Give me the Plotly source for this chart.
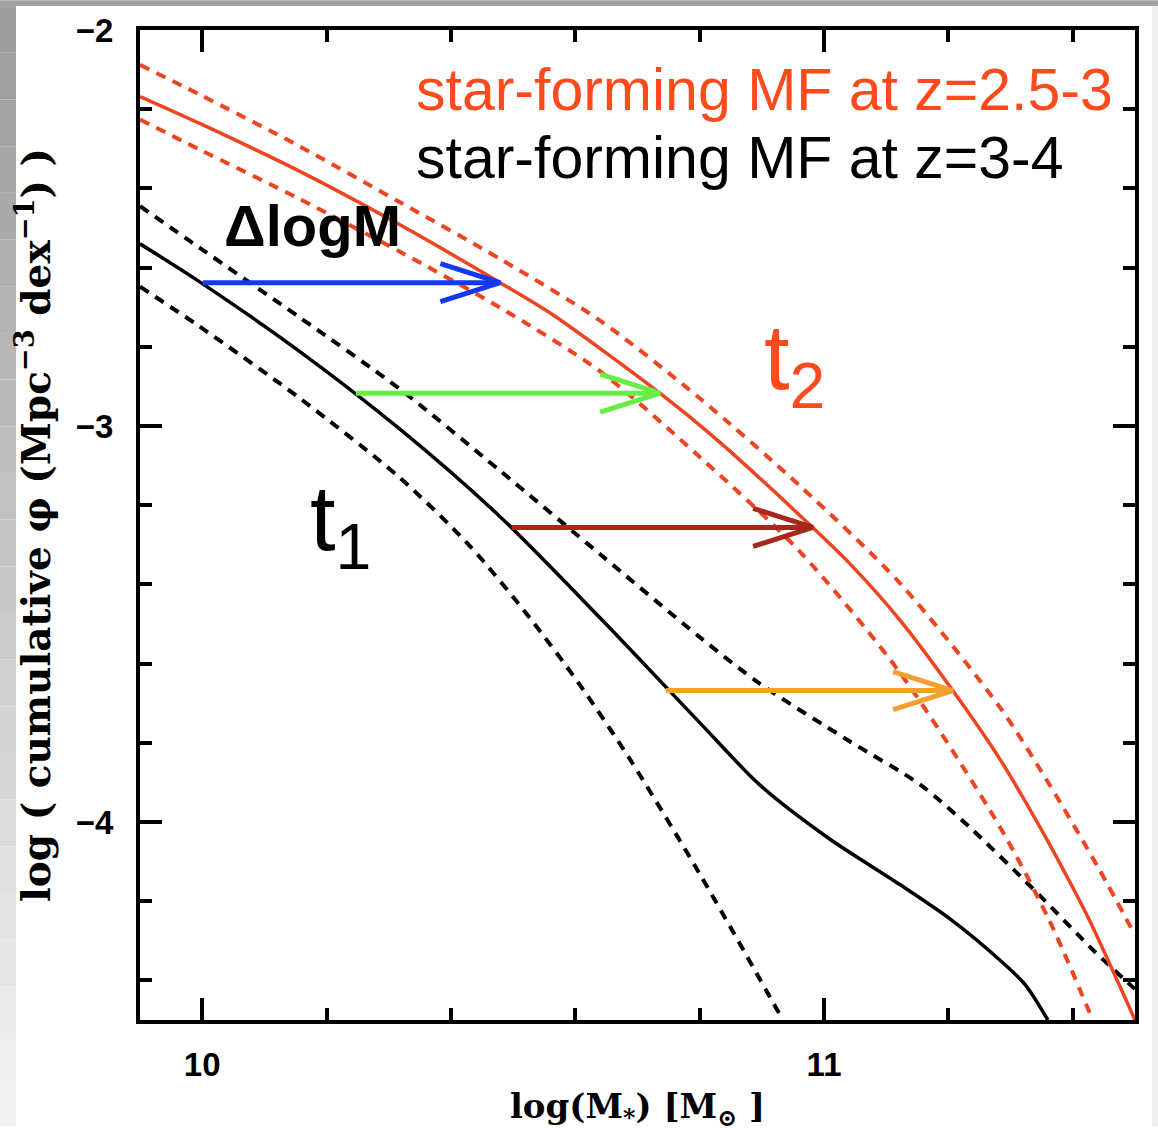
import plotly.graph_objects as go

# ---- cumulative stellar mass functions of star-forming galaxies ----
# z = 3-4 (black): best estimate and upper / lower bounds
mass_z34 = [9.900, 9.996, 10.157, 10.318, 10.479, 10.640, 10.800, 10.897,
            11.009, 11.122, 11.202, 11.283, 11.323, 11.360]
phi_z34 = [-2.540, -2.636, -2.812, -3.008, -3.229, -3.485, -3.749, -3.907,
           -4.043, -4.158, -4.244, -4.349, -4.410, -4.500]

mass_z34_hi = [9.900, 9.996, 10.157, 10.318, 10.479, 10.640, 10.800, 10.897,
               11.041, 11.154, 11.234, 11.347, 11.435, 11.500]
phi_z34_hi = [-2.445, -2.550, -2.726, -2.907, -3.113, -3.324, -3.533, -3.651,
              -3.796, -3.905, -4.013, -4.186, -4.327, -4.422]

mass_z34_lo = [9.900, 9.996, 10.157, 10.318, 10.431, 10.527, 10.607, 10.688, 10.800, 10.932]
phi_z34_lo = [-2.648, -2.749, -2.930, -3.131, -3.304, -3.485, -3.653, -3.842, -4.131, -4.495]

# z = 2.5-3 (red): best estimate and upper / lower bounds
mass_z253 = [9.900, 9.996, 10.157, 10.318, 10.479, 10.559, 10.736, 10.828, 10.980,
             11.041, 11.122, 11.207, 11.283, 11.358, 11.395, 11.427, 11.500]
phi_z253 = [-2.168, -2.236, -2.357, -2.492, -2.638, -2.714, -2.917, -3.035, -3.254,
            -3.347, -3.490, -3.668, -3.842, -4.043, -4.151, -4.249, -4.500]

mass_z253_hi = [9.900, 9.996, 10.157, 10.318, 10.479, 10.640, 10.800, 10.961,
                11.122, 11.283, 11.363, 11.443, 11.500]
phi_z253_hi = [-2.088, -2.163, -2.294, -2.435, -2.578, -2.734, -2.930, -3.151,
               -3.397, -3.711, -3.907, -4.121, -4.286]

mass_z253_lo = [9.900, 9.996, 10.157, 10.318, 10.479, 10.640, 10.800, 10.961,
                11.122, 11.283, 11.363, 11.432]
phi_z253_lo = [-2.226, -2.302, -2.427, -2.560, -2.701, -2.862, -3.078, -3.317,
               -3.623, -4.013, -4.251, -4.500]

# mass growth (Delta log M) at fixed cumulative number density
arrow_phi = [-2.638, -2.917, -3.256, -3.668]
arrow_mass_from = [10.001, 10.247, 10.498, 10.746]
arrow_mass_to = [10.479, 10.736, 10.982, 11.207]
arrow_colors = ["#1238F2", "#66EE44", "#A6281A", "#F4A030"]

# axis ticks
x_tick_vals = [10, 11]
x_tick_text = ["10", "11"]
y_tick_vals = [-2, -3, -4]
y_tick_text = ["\u22122", "\u22123", "\u22124"]

RED = "#EE4422"
RED_TEXT = "#FF4A1C"

W, H = 1158, 1132
ML, MR, MT, MB = 140, 23, 30, 107


def px(x):
    return (x - ML) / (W - ML - MR)


def py(y):
    return 1 - (y - MT) / (H - MT - MB)


fig = go.Figure()

curve_style = dict(mode="lines", line_shape="spline", hoverinfo="skip", showlegend=False)
dashed = "10px,8px"
fig.add_trace(go.Scatter(x=mass_z34_lo, y=phi_z34_lo,
                         line=dict(color="black", width=4, dash=dashed, smoothing=0.8), **curve_style))
fig.add_trace(go.Scatter(x=mass_z34_hi, y=phi_z34_hi,
                         line=dict(color="black", width=4, dash=dashed, smoothing=0.8), **curve_style))
fig.add_trace(go.Scatter(x=mass_z34, y=phi_z34,
                         line=dict(color="black", width=3.5, smoothing=0.8), **curve_style))
fig.add_trace(go.Scatter(x=mass_z253_lo, y=phi_z253_lo,
                         line=dict(color=RED, width=4, dash=dashed, smoothing=0.8), **curve_style))
fig.add_trace(go.Scatter(x=mass_z253_hi, y=phi_z253_hi,
                         line=dict(color=RED, width=4, dash=dashed, smoothing=0.8), **curve_style))
fig.add_trace(go.Scatter(x=mass_z253, y=phi_z253,
                         line=dict(color=RED, width=3.5, smoothing=0.8), **curve_style))

# arrows with open V heads
head_dx, head_dy = 0.096, 0.048
for x0, x1, yv, col in zip(arrow_mass_from, arrow_mass_to, arrow_phi, arrow_colors):
    fig.add_trace(go.Scatter(x=[x0, x1], y=[yv, yv], mode="lines",
                             line=dict(color=col, width=5), hoverinfo="skip", showlegend=False))
    fig.add_trace(go.Scatter(x=[x1 - head_dx, x1, x1 - head_dx],
                             y=[yv + head_dy, yv, yv - head_dy], mode="lines",
                             line=dict(color=col, width=5), hoverinfo="skip", showlegend=False))

# slide-style frame around the figure
shapes = [dict(type="rect", xref="paper", yref="paper", x0=px(0), x1=px(W), y0=py(6), y1=py(0),
               fillcolor="#a2a2a2", line_width=0, layer="below")]
n_bands = 24
for i in range(n_bands):
    g = int(0x9c + (0xf2 - 0x9c) * i / (n_bands - 1))
    shapes.append(dict(type="rect", xref="paper", yref="paper",
                       x0=px(0), x1=px(16), y0=py(6 + (H - 6) * (i + 1) / n_bands),
                       y1=py(6 + (H - 6) * i / n_bands),
                       fillcolor=f"rgb({g},{g},{g})", line_width=0, layer="below"))
shapes.append(dict(type="rect", xref="paper", yref="paper", x0=px(1152), x1=px(W),
                   y0=py(H), y1=py(6), fillcolor="#efefef", line_width=0, layer="below"))

annotations = [
    dict(text="star-forming MF at z=2.5-3", x=px(414), y=py(90), xanchor="left", yanchor="middle",
         font=dict(family="Liberation Sans", size=59, color=RED_TEXT)),
    dict(text="star-forming MF at z=3-4", x=px(414), y=py(159), xanchor="left", yanchor="middle",
         font=dict(family="Liberation Sans", size=59, color="black")),
    dict(text="<b>\u0394logM</b>", x=px(222), y=py(226), xanchor="left", yanchor="middle",
         font=dict(family="Liberation Sans", size=58, color="black")),
    dict(text="t<sub>2</sub>", x=px(762), y=py(366), xanchor="left", yanchor="middle",
         font=dict(family="Liberation Sans", size=92, color=RED_TEXT)),
    dict(text="t<sub>1</sub>", x=px(308), y=py(528), xanchor="left", yanchor="middle",
         font=dict(family="Liberation Sans", size=92, color="black")),
]
for a in annotations:
    a.update(xref="paper", yref="paper", showarrow=False)

axis_common = dict(showgrid=False, zeroline=False, showline=True, linewidth=4, linecolor="black",
                   mirror="allticks", ticks="inside", ticklen=22, tickwidth=4, tickcolor="black",
                   tickmode="array",
                   tickfont=dict(family="Liberation Sans", size=33, color="black", weight="bold"))

fig.update_layout(
    width=W, height=H, autosize=False,
    margin=dict(l=ML, r=MR, t=MT, b=MB, pad=0),
    paper_bgcolor="white", plot_bgcolor="white",
    shapes=shapes, annotations=annotations,
    xaxis=dict(range=[9.9, 11.5], tickvals=x_tick_vals, ticktext=x_tick_text,
               ticklabelstandoff=12,
               minor=dict(ticks="inside", ticklen=12, tickwidth=4, tickcolor="black",
                          tickmode="linear", tick0=10, dtick=0.2, showgrid=False),
               title=dict(text="log(M<sub>*</sub>) [M<sub>\u2299</sub> ]", standoff=14,
                          font=dict(family="DejaVu Serif", size=34, color="black", weight="bold")),
               **axis_common),
    yaxis=dict(range=[-4.5, -2], tickvals=y_tick_vals, ticktext=y_tick_text,
               ticklabelstandoff=16,
               minor=dict(ticks="inside", ticklen=12, tickwidth=4, tickcolor="black",
                          tickmode="linear", tick0=-2, dtick=0.2, showgrid=False),
               title=dict(text="log ( cumulative \u03c6 (Mpc<sup>\u22123</sup> dex<sup>\u22121</sup>) )",
                          standoff=14,
                          font=dict(family="DejaVu Serif", size=39, color="black", weight="bold")),
               **axis_common),
)

fig.write_html("out.html")
